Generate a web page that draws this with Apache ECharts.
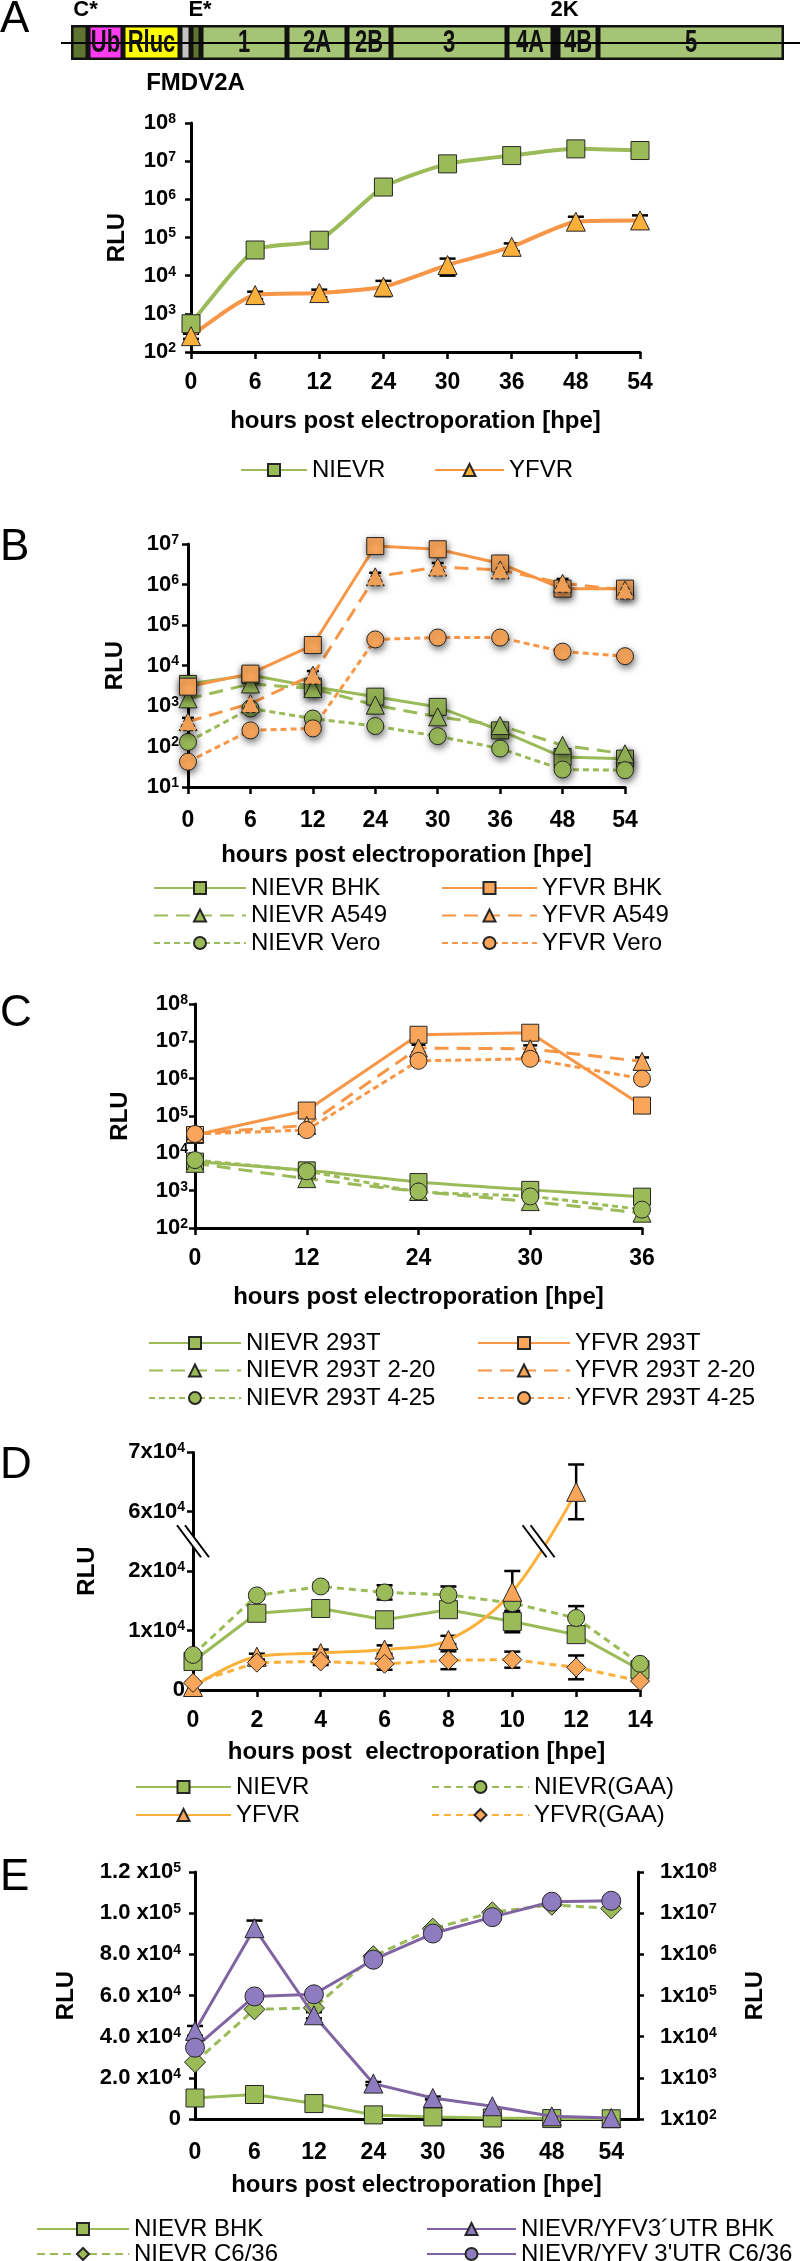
<!DOCTYPE html>
<html><head><meta charset="utf-8">
<script src="https://cdn.jsdelivr.net/npm/echarts@6/dist/echarts.min.js"></script>
<style>html,body{margin:0;padding:0;background:#fff}#c{width:800px;height:2261px}</style>
</head><body><div id="c"></div>
<script>
// ================= DATA =================
// genome map (segment lengths, arbitrary units)
const genomeSegments = ['C*','Ub','Rluc','FMDV2A','E*','1','2A','2B','3','4A','2K','4B','5'];
const genomeLengths  = [17, 35, 57, 11, 10, 86, 60, 44, 116, 46, 5, 40, 186];

// Panel A
const hpeA = ['0','6','12','24','30','36','48','54'];
const nievrA = [550, 47000, 85000, 2.1e6, 8.5e6, 1.4e7, 2.1e7, 1.9e7];
const yfvrA  = [260, 3100, 3500, 5100, 19000, 57000, 2.6e5, 2.8e5];
const yfvrAErr = [40, 700, 800, 2200, 9000, 13000, 90000, 100000];

// Panel B
const hpeB = ['0','6','12','24','30','36','48','54'];
const nievrBhkB  = [3500, 5800, 3000, 1700, 950, 250, 55, 50];
const nievrA549B = [1500, 3500, 2700, 1050, 540, 330, 107, 66];
const nievrVeroB = [130, 870, 490, 320, 180, 89, 27, 26];
const yfvrBhkB   = [3000, 6300, 32000, 8.9e6, 7.4e6, 3.3e6, 7.9e5, 7.9e5];
const yfvrA549B  = [410, 1150, 5800, 1.55e6, 2.7e6, 2.3e6, 1.07e6, 7.3e5];
const yfvrVeroB  = [42, 250, 280, 44000, 49000, 49000, 22000, 17000];
const yfvrA549BErr = [100, 0, 1500, 4e5, 7e5, 6e5, 3e5, 2e5];

// Panel C
const hpeC = ['0','12','24','30','36'];
const nievr293C   = [6000, 3500, 1700, 1050, 690];
const nievr220C   = [5400, 2100, 950, 510, 250];
const nievr425C   = [6600, 3300, 950, 700, 310];
const yfvr293C    = [31000, 1.4e5, 1.5e7, 1.7e7, 1.9e5];
const yfvr220C    = [34000, 56000, 6.6e6, 6.3e6, 2.9e6];
const yfvr425C    = [33000, 42000, 3.0e6, 3.4e6, 1.0e6];
const yfvr220CErr = [0, 0, 1.5e6, 1.5e6, 8e5];

// Panel D
const hpeD = ['0','2','4','6','8','10','12','14'];
const nievrD    = [4800, 12900, 13700, 11800, 13500, 11500, 9300, 3400];
const nievrGaaD = [5900, 15900, 17400, 16400, 16000, 14600, 12100, 4400];
const yfvrD     = [500, 5600, 6200, 6800, 8400, 16500, 63300, null];
const yfvrGaaD  = [1200, 4600, 4800, 4400, 5000, 5100, 3800, 1500];
const nievrDErr    = [0, 0, 0, 0, 0, 1800, 0, 0];
const nievrGaaDErr = [0, 500, 600, 1200, 1400, 0, 2000, 0];
const yfvrDErr     = [0, 500, 600, 700, 700, 3500, 4600, 0];
const yfvrGaaDErr  = [0, 500, 600, 1000, 1500, 1350, 2000, 0];
const ticksD = [0, 10000, 20000, 60000, 70000];
const breakD = [25000, 55000];

// Panel E
const hpeE = ['0','6','12','24','30','36','48','54'];
const nievrBhkE  = [10200, 11900, 7500, 2000, 1000, 500, 200, 100];
const utrBhkE    = [42800, 92700, 50400, 17200, 10200, 6200, 1300, 500];
const nievrC636E = [2400, 46000, 50000, 9e5, 4.2e6, 1.05e7, 1.6e7, 1.3e7];
const utrC636E   = [5400, 95000, 1.07e5, 7.4e5, 3.2e6, 8e6, 1.9e7, 2.0e7];
const utrBhkEErr = [2400, 3700, 1500, 800, 700, 0, 0, 0];

// ================= STYLE =================
const FONT = "'Liberation Sans', Arial, sans-serif";
const GREEN = '#9bbb59', ORANGE = '#f79646', ORANGE_FILL = '#f9a65a', AMBER = '#fbb03b', PURPLE = '#8064a2', PURPLE_FILL = '#8f7bbf';
const segStyle = {'C*':'#5f7431','Ub':'#ff3cf2','Rluc':'#ffff00','FMDV2A':'#c4c4c4','E*':'#5f7431'};
const BLACK = '#000';

const supRich = {
  b: {fontSize: 22, fontWeight: 'bold', fontFamily: FONT, color: BLACK},
  s: {fontSize: 14, fontWeight: 'bold', fontFamily: FONT, color: BLACK, verticalAlign: 'top'}
};
const nameStyle = {fontSize: 24, fontWeight: 'bold', fontFamily: FONT, color: BLACK};

const chart = echarts.init(document.getElementById('c'), null, {renderer: 'canvas', width: 800, height: 2261});

// ---------- helpers ----------
function catX(gi, cats, margin, gap, name) {
  return {type: 'category', gridIndex: gi, data: cats, boundaryGap: false,
    axisLine: {show: true, lineStyle: {color: BLACK, width: 3}},
    axisTick: {show: true, length: 7, lineStyle: {color: BLACK, width: 2.5}},
    axisLabel: {fontSize: 23, fontWeight: 'bold', fontFamily: FONT, color: BLACK, margin},
    splitLine: {show: false},
    name: name || 'hours post electroporation [hpe]', nameLocation: 'middle', nameGap: gap, nameTextStyle: nameStyle};
}
function logY(gi, min, max, margin, gap) {
  return {type: 'log', logBase: 10, gridIndex: gi, min, max, splitNumber: 6,
    axisLine: {show: true, lineStyle: {color: BLACK, width: 3}},
    axisTick: {show: true, length: 6, lineStyle: {color: BLACK, width: 2.5}},
    minorTick: {show: false}, splitLine: {show: false},
    axisLabel: {margin, formatter: v => '{b|10}{s|' + Math.round(Math.log10(v)) + '}', rich: supRich},
    name: 'RLU', nameLocation: 'middle', nameGap: gap, nameRotate: 90, nameTextStyle: nameStyle};
}
function lineS(id, xi, yi, data, o) {
  return {name: id, type: 'line', xAxisIndex: xi, yAxisIndex: yi, data, symbol: o.symbol, symbolSize: o.size || 16,
    showAllSymbol: true, smooth: o.smooth || false, z: o.z || 3, connectNulls: false,
    lineStyle: {color: o.line, width: o.width || 3, type: o.dash || 'solid'},
    itemStyle: Object.assign({color: o.fill, borderColor: '#262626', borderWidth: 1, borderType: o.borderType || 'solid'},
      o.shadow ? {shadowBlur: 7, shadowColor: 'rgba(0,0,0,0.55)', shadowOffsetX: 1, shadowOffsetY: 3} : {}),
    emphasis: {disabled: true}};
}
function errS(xi, yi, vals, errs, cap) {
  const data = [];
  vals.forEach((v, i) => { if (errs[i] && v != null) data.push([i, Math.max(v - errs[i], v * 0.05), v + errs[i]]); });
  return {type: 'custom', xAxisIndex: xi, yAxisIndex: yi, z: 2, silent: true, data,
    encode: {x: 0, y: [1, 2]},
    renderItem(params, api) {
      const x = api.value(0), hi = api.coord([x, api.value(2)]), lo = api.coord([x, api.value(1)]);
      const w = cap || 7;
      const st = {stroke: BLACK, lineWidth: 2.5};
      return {type: 'group', children: [
        {type: 'line', shape: {x1: hi[0], y1: hi[1], x2: lo[0], y2: lo[1]}, style: st},
        {type: 'line', shape: {x1: hi[0] - w, y1: hi[1], x2: hi[0] + w, y2: hi[1]}, style: st},
        {type: 'line', shape: {x1: lo[0] - w, y1: lo[1], x2: lo[0] + w, y2: lo[1]}, style: st}]};
    }};
}
function legend(names, left, top, itemWidth, gap, lh) {
  return {data: names, orient: 'vertical', left, top, height: 120, itemWidth, itemHeight: 15, itemGap: gap, padding: 0,
    selectedMode: false, formatter: n => n.split('|')[1],
    textStyle: {fontSize: 24, fontFamily: FONT, color: BLACK, lineHeight: lh || 24}};
}

// ---------- genome ----------
const series = [];
series.push({type: 'line', xAxisIndex: 0, yAxisIndex: 0, data: [], z: 1, silent: true,
  markLine: {symbol: 'none', silent: true, label: {show: false}, lineStyle: {color: BLACK, width: 2, type: 'solid'},
    data: [{yAxis: 'g'}]}});
const topLabels = {'C*': 6, 'E*': 4, '2K': 9};
genomeSegments.forEach((name, i) => {
  let label = {show: false};
  if (name in topLabels) {
    label = {show: true, position: 'top', distance: 4, offset: [topLabels[name], 0], formatter: name,
      fontSize: 22, fontWeight: 'bold', fontFamily: FONT, color: BLACK};
  } else if (name === 'FMDV2A') {
    label = {show: true, position: 'bottom', distance: 11, offset: [10, 0], formatter: name,
      fontSize: 24, fontWeight: 'bold', fontFamily: FONT, color: BLACK};
  }
  series.push({type: 'bar', stack: 'genome', xAxisIndex: 0, yAxisIndex: 0, barWidth: '100%', z: 2, silent: true,
    data: [genomeLengths[i]], label,
    itemStyle: {color: segStyle[name] || '#a6c476', borderColor: '#111', borderWidth: 2.5}});
});

// ---------- A ----------
series.push(errS(1, 1, yfvrA, yfvrAErr, 8));
series.push(lineS('A|NIEVR', 1, 1, nievrA, {symbol: 'rect', size: 18, line: GREEN, fill: GREEN, width: 4, smooth: 0.2}));
series.push(lineS('A|YFVR', 1, 1, yfvrA, {symbol: 'triangle', size: 19, line: ORANGE, fill: AMBER, width: 4, smooth: 0.2}));

// ---------- B ----------
const dashL = [14, 8], dashS = [6, 4];
series.push(errS(2, 2, yfvrA549B, yfvrA549BErr, 6));
series.push(lineS('B|NIEVR BHK', 2, 2, nievrBhkB, {symbol: 'rect', size: 17, line: GREEN, fill: GREEN, shadow: 1}));
series.push(lineS('B|NIEVR A549', 2, 2, nievrA549B, {symbol: 'triangle', size: 18, line: GREEN, fill: GREEN, dash: dashL, shadow: 1}));
series.push(lineS('B|NIEVR Vero', 2, 2, nievrVeroB, {symbol: 'circle', size: 17, line: GREEN, fill: GREEN, dash: dashS, shadow: 1}));
series.push(lineS('B|YFVR BHK', 2, 2, yfvrBhkB, {symbol: 'rect', size: 17, line: ORANGE, fill: ORANGE_FILL, shadow: 1}));
series.push(lineS('B|YFVR A549', 2, 2, yfvrA549B, {symbol: 'triangle', size: 18, line: ORANGE, fill: ORANGE_FILL, dash: dashL, borderType: 'dashed', shadow: 1}));
series.push(lineS('B|YFVR Vero', 2, 2, yfvrVeroB, {symbol: 'circle', size: 17, line: ORANGE, fill: ORANGE_FILL, dash: dashS, shadow: 1}));

// ---------- C ----------
series.push(errS(3, 3, yfvr220C, yfvr220CErr, 7));
series.push(lineS('C|NIEVR 293T', 3, 3, nievr293C, {symbol: 'rect', size: 17, line: GREEN, fill: GREEN, smooth: 0.2}));
series.push(lineS('C|NIEVR 293T 2-20', 3, 3, nievr220C, {symbol: 'triangle', size: 18, line: GREEN, fill: GREEN, dash: dashL, smooth: 0.2}));
series.push(lineS('C|NIEVR 293T 4-25', 3, 3, nievr425C, {symbol: 'circle', size: 17, line: GREEN, fill: GREEN, dash: dashS, smooth: 0.2}));
series.push(lineS('C|YFVR 293T', 3, 3, yfvr293C, {symbol: 'rect', size: 17, line: ORANGE, fill: ORANGE_FILL}));
series.push(lineS('C|YFVR 293T 2-20', 3, 3, yfvr220C, {symbol: 'triangle', size: 18, line: ORANGE, fill: ORANGE_FILL, dash: dashL}));
series.push(lineS('C|YFVR 293T 4-25', 3, 3, yfvr425C, {symbol: 'circle', size: 17, line: ORANGE, fill: ORANGE_FILL, dash: dashS}));

// ---------- D ----------
series.push(errS(4, 4, nievrD, nievrDErr, 8));
series.push(errS(4, 4, nievrGaaD, nievrGaaDErr, 8));
series.push(errS(4, 4, yfvrD, yfvrDErr, 8));
series.push(errS(4, 4, yfvrGaaD, yfvrGaaDErr, 8));
series.push(lineS('D|NIEVR', 4, 4, nievrD, {symbol: 'rect', size: 18, line: GREEN, fill: GREEN}));
series.push(lineS('D|NIEVR(GAA)', 4, 4, nievrGaaD, {symbol: 'circle', size: 17, line: GREEN, fill: GREEN, dash: [7, 5]}));
series.push(lineS('D|YFVR', 4, 4, yfvrD, {symbol: 'triangle', size: 19, line: AMBER, fill: ORANGE_FILL, smooth: 0.35}));
series.push(lineS('D|YFVR(GAA)', 4, 4, yfvrGaaD, {symbol: 'diamond', size: 19, line: AMBER, fill: ORANGE_FILL, dash: [7, 5]}));

// ---------- E ----------
const idxE = hpeE.map((h, i) => i);
const pairs = arr => arr.map((v, i) => [idxE[i], v]);
series.push(errS(5, 5, utrBhkE, utrBhkEErr, 8));
series.push(lineS('E|NIEVR BHK', 5, 5, pairs(nievrBhkE), {symbol: 'rect', size: 18, line: GREEN, fill: GREEN}));
series.push(lineS('E|NIEVR C6/36', 5, 6, pairs(nievrC636E), {symbol: 'diamond', size: 21, line: GREEN, fill: GREEN, dash: [8, 5]}));
series.push(lineS('E|NIEVR/YFV3\u00b4UTR BHK', 5, 5, pairs(utrBhkE), {symbol: 'triangle', size: 19, line: PURPLE, fill: PURPLE_FILL, z: 4}));
series.push(lineS('E|NIEVR/YFV 3\'UTR C6/36', 5, 6, pairs(utrC636E), {symbol: 'circle', size: 19, line: PURPLE, fill: PURPLE_FILL, z: 4}));

// ---------- axes ----------
const grids = [
  {left: 61, top: 25, width: 739, height: 35},
  {left: 191, top: 123, width: 449, height: 229},
  {left: 188, top: 544, width: 437, height: 243},
  {left: 195, top: 1004, width: 447, height: 224},
  {left: 193, top: 1452, width: 447, height: 238},
  {left: 195, top: 1872, width: 443, height: 247}
];
const xAxes = [
  {type: 'value', gridIndex: 0, min: -10, max: 729, show: false},
  catX(1, hpeA, 19, 57),
  catX(2, hpeB, 22, 56),
  catX(3, hpeC, 19, 57),
  catX(4, hpeD, 19, 50, 'hours post  electroporation [hpe]'),
  {type: 'value', gridIndex: 5, min: 0, max: 7.45, interval: 1,
    axisLine: {show: true, lineStyle: {color: BLACK, width: 3}}, axisTick: {show: false}, splitLine: {show: false},
    axisLabel: {fontSize: 23, fontWeight: 'bold', fontFamily: FONT, color: BLACK, margin: 22, showMaxLabel: false,
      formatter: v => (Number.isInteger(v) && hpeE[v] !== undefined) ? hpeE[v] : ''},
    name: 'hours post electroporation [hpe]', nameLocation: 'middle', nameGap: 54, nameTextStyle: nameStyle}
];
const yAxes = [
  {type: 'category', gridIndex: 0, data: ['g'], show: false},
  logY(1, 100, 1e8, 15, 62),
  logY(2, 10, 1e7, 9, 61),
  logY(3, 100, 1e8, 7, 63),
  {type: 'value', gridIndex: 4, min: 0, max: 70000, interval: 10000,
    breaks: [{start: breakD[0], end: breakD[1], gap: 0}], breakArea: {show: false},
    breakLabelLayout: {moveOverlap: false},
    axisLine: {show: true, lineStyle: {color: BLACK, width: 3}},
    axisTick: {show: true, length: 6, customValues: ticksD, lineStyle: {color: BLACK, width: 2.5}}, splitLine: {show: false},
    axisLabel: {margin: 8, rich: supRich, customValues: ticksD, hideOverlap: false,
      formatter: v => v === 0 ? '{b|0}' : '{b|' + Math.round(v / 10000) + 'x10}{s|4}'},
    name: 'RLU', nameLocation: 'middle', nameGap: 94, nameRotate: 90, nameTextStyle: nameStyle},
  {type: 'value', gridIndex: 5, min: 0, max: 120000, interval: 20000,
    axisLine: {show: true, lineStyle: {color: BLACK, width: 3}},
    axisTick: {show: true, length: 6, lineStyle: {color: BLACK, width: 2.5}}, splitLine: {show: false},
    axisLabel: {margin: 14, rich: supRich, formatter: v => {
      if (v === 0) return '{b|0}';
      const e = Math.floor(Math.log10(v) + 1e-9);
      return '{b|' + (v / Math.pow(10, e)).toFixed(1) + ' x10}{s|' + e + '}';
    }},
    name: 'RLU', nameLocation: 'middle', nameGap: 117, nameRotate: 90, nameTextStyle: nameStyle},
  {type: 'log', logBase: 10, gridIndex: 5, position: 'right', min: 100, max: 1e8, splitNumber: 6,
    axisLine: {show: true, lineStyle: {color: BLACK, width: 3}},
    axisTick: {show: true, length: 6, lineStyle: {color: BLACK, width: 2.5}}, minorTick: {show: false}, splitLine: {show: false},
    axisLabel: {margin: 22, rich: supRich, formatter: v => '{b|1x10}{s|' + Math.round(Math.log10(v)) + '}'},
    name: 'RLU', nameLocation: 'middle', nameGap: 105, nameRotate: 90, nameTextStyle: nameStyle}
];

const legends = [
  legend(['A|NIEVR'], 240, 458, 66, 4),
  legend(['A|YFVR'], 434, 458, 69, 4),
  legend(['B|NIEVR BHK', 'B|NIEVR A549', 'B|NIEVR Vero'], 153, 876, 92, 3.5),
  legend(['B|YFVR BHK', 'B|YFVR A549', 'B|YFVR Vero'], 441, 876, 95, 3.5),
  legend(['C|NIEVR 293T', 'C|NIEVR 293T 2-20', 'C|NIEVR 293T 4-25'], 148, 1331, 92, 3.5),
  legend(['C|YFVR 293T', 'C|YFVR 293T 2-20', 'C|YFVR 293T 4-25'], 477, 1331, 92, 3.5),
  legend(['D|NIEVR', 'D|YFVR'], 135, 1775, 95, 4),
  legend(['D|NIEVR(GAA)', 'D|YFVR(GAA)'], 431, 1775, 97, 4),
  legend(['E|NIEVR BHK', 'E|NIEVR C6/36'], 36, 2217, 92, 1, 20),
  legend(['E|NIEVR/YFV3\u00b4UTR BHK', 'E|NIEVR/YFV 3\'UTR C6/36'], 426, 2217, 89, 1, 20)
];

const letters = [['A', 20], ['B', 548], ['C', 1014], ['D', 1466], ['E', 1878]];
const graphic = letters.map(([t, y]) => ({type: 'text', left: 0, top: y - 22, silent: true,
  style: {text: t, fontSize: 44, fontFamily: FONT, fill: BLACK}}));

chart.setOption({
  animation: false, backgroundColor: '#fff',
  grid: grids, xAxis: xAxes, yAxis: yAxes, legend: legends, series, graphic
});

// genome segment names, placed at segment centres through the genome axis scale (tall condensed look)
let acc = 0;
const segText = [];
genomeSegments.forEach((name, i) => {
  const mid = acc + genomeLengths[i] / 2;
  acc += genomeLengths[i];
  if (name in topLabels || name === 'FMDV2A') return;
  const p = chart.convertToPixel({gridIndex: 0}, [mid, 'g']);
  segText.push({type: 'text', x: p[0], y: p[1] + 1, scaleY: 1.4, z: 60, silent: true,
    style: {text: name, x: 0, y: 0, align: 'center', verticalAlign: 'middle', textAlign: 'center', textVerticalAlign: 'middle',
      font: 'bold 22px ' + FONT, fill: '#111'}});
});

// axis-break markers in panel D, placed from the axis scale
const yBreak = chart.convertToPixel({yAxisIndex: 4}, breakD[0]);
const xAxisD = chart.convertToPixel({xAxisIndex: 4}, 0);
const p10 = chart.convertToPixel({gridIndex: 4}, [5, yfvrD[5]]);
const p12 = chart.convertToPixel({gridIndex: 4}, [6, yfvrD[6]]);
const t = (p10[1] - yBreak) / (p10[1] - p12[1]);
const xCross = p10[0] + t * (p12[0] - p10[0]) - 6;
function breakMark(cx, cy) {
  return [
    {type: 'polygon', silent: true, z: 50, shape: {points: [[cx - 16, cy - 16], [cx - 8, cy - 16], [cx + 16, cy + 16], [cx + 8, cy + 16]]}, style: {fill: '#fff'}},
    {type: 'line', silent: true, z: 51, shape: {x1: cx - 16, y1: cy - 16, x2: cx + 8, y2: cy + 16}, style: {stroke: BLACK, lineWidth: 2}},
    {type: 'line', silent: true, z: 51, shape: {x1: cx - 8, y1: cy - 16, x2: cx + 16, y2: cy + 16}, style: {stroke: BLACK, lineWidth: 2}}
  ];
}
chart.setOption({graphic: graphic.concat(segText, breakMark(xAxisD, yBreak), breakMark(xCross, yBreak))});
</script>
</body></html>
